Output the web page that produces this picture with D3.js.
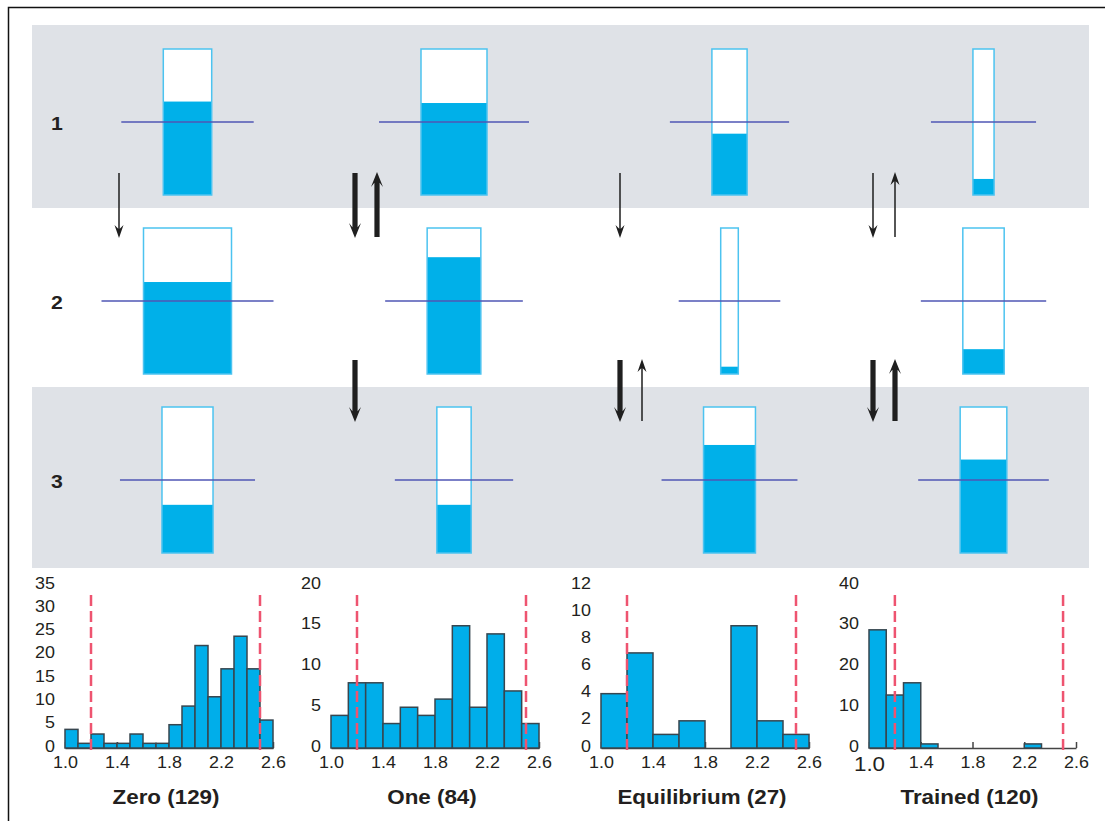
<!DOCTYPE html>
<html>
<head>
<meta charset="utf-8">
<script src="https://cdn.jsdelivr.net/npm/d3@7"></script>
<style>
  body { margin: 0; background: #fff; }
  svg { display: block; }
  text { font-family: "Liberation Sans", Arial, sans-serif; fill: #231f20; }
</style>
</head>
<body>
<div id="chart"></div>
<script>
// ---- schematic (top) ----
const rowLabels = ['1', '2', '3'];

// tank capacity relative to the largest tank, one array per row (columns left to right)
const capacityRow1 = [0.55, 0.75, 0.40, 0.24];
const capacityRow2 = [1.00, 0.61, 0.20, 0.47];
const capacityRow3 = [0.58, 0.39, 0.59, 0.53];

// fill level of each tank (0..1)
const levelRow1 = [0.64, 0.63, 0.42, 0.11];
const levelRow2 = [0.63, 0.80, 0.05, 0.17];
const levelRow3 = [0.33, 0.33, 0.74, 0.64];

const thresholdLevel = 0.5;

// transitions between rows (gap 0: row 1 -> 2, gap 1: row 2 -> 3)
const transitions = [
  { gap: 0, col: 0, dir: 'down', heavy: false },
  { gap: 0, col: 1, dir: 'down', heavy: true },
  { gap: 0, col: 1, dir: 'up', heavy: true },
  { gap: 0, col: 2, dir: 'down', heavy: false },
  { gap: 0, col: 3, dir: 'down', heavy: false },
  { gap: 0, col: 3, dir: 'up', heavy: false },
  { gap: 1, col: 1, dir: 'down', heavy: true },
  { gap: 1, col: 2, dir: 'down', heavy: true },
  { gap: 1, col: 2, dir: 'up', heavy: false },
  { gap: 1, col: 3, dir: 'down', heavy: true },
  { gap: 1, col: 3, dir: 'up', heavy: true },
];

// ---- histograms (bottom) ----
const panelNames = ['Zero', 'One', 'Equilibrium', 'Trained'];
const panelTotals = [129, 84, 27, 120];
const countsZero = [4, 1, 3, 1, 1, 3, 1, 1, 5, 9, 22, 11, 17, 24, 17, 6];
const countsOne = [4, 8, 8, 3, 5, 4, 6, 15, 5, 14, 7, 3];
const countsEquilibrium = [4, 7, 1, 2, 0, 9, 2, 1];
const countsTrained = [29, 13, 16, 1, 0, 0, 0, 0, 0, 1, 0, 0];
const yMaxes = [35, 20, 12, 40];
const yTickSteps = [5, 5, 2, 10];
const xDomain = [1.0, 2.6];
const xTickValues = [1.0, 1.4, 1.8, 2.2, 2.6];
const limitLines = [1.2, 2.5];

// ---- layout ----
const W = 1105, H = 821;
const colCenters = [187.5, 454, 729.5, 983.5];
const bandY = [25, 208, 387, 568];
const tankTop = [49, 228, 407];
const tankH = 146;
const lineOverhang = 42;
const arrowDownX = [119, 355, 620, 873];
const arrowPair = 22;
const arrowSpan = [[173, 237], [360, 421]];
const panelX = [[65, 273], [331, 539], [601, 809], [869, 1076]];
const plotTop = 585, plotBottom = 748;
const stretch = 'scale(1.12,1)';

const capacities = [capacityRow1, capacityRow2, capacityRow3];
const levels = [levelRow1, levelRow2, levelRow3];
const counts = [countsZero, countsOne, countsEquilibrium, countsTrained];

const svg = d3.select('#chart').append('svg')
  .attr('width', W)
  .attr('height', H);

// frame (top and left edges)
svg.append('path')
  .attr('d', `M8.5,${H} V7.5 H${W}`)
  .attr('fill', 'none')
  .attr('stroke', '#111')
  .attr('stroke-width', 1.5);

// gray bands for rows 1 and 3
svg.selectAll('rect.band')
  .data([0, 2])
  .enter().append('rect')
  .attr('class', 'band')
  .attr('x', 32)
  .attr('width', 1089 - 32)
  .attr('y', d => bandY[d])
  .attr('height', d => bandY[d + 1] - bandY[d])
  .attr('fill', '#dfe2e7');

const widthScale = d3.scaleLinear().domain([0, 1]).range([0, 88]);

rowLabels.forEach((label, r) => {
  const levelScale = d3.scaleLinear().domain([0, 1]).range([tankTop[r] + tankH, tankTop[r]]);
  const row = svg.append('g').attr('class', 'row-' + label);

  row.append('text')
    .attr('transform', `translate(57,${levelScale(thresholdLevel) + 1}) ${stretch}`)
    .attr('text-anchor', 'middle')
    .attr('dominant-baseline', 'central')
    .attr('font-size', 19)
    .attr('font-weight', 'bold')
    .text(label);

  const tanks = row.selectAll('g.tank')
    .data(capacities[r].map((c, i) => ({ c, level: levels[r][i], x: colCenters[i] })))
    .enter().append('g')
    .attr('class', 'tank');

  tanks.append('rect')
    .attr('x', d => d.x - widthScale(d.c) / 2)
    .attr('width', d => widthScale(d.c))
    .attr('y', levelScale(1))
    .attr('height', tankH)
    .attr('fill', '#fff');

  tanks.append('rect')
    .attr('x', d => d.x - widthScale(d.c) / 2)
    .attr('width', d => widthScale(d.c))
    .attr('y', d => levelScale(d.level))
    .attr('height', d => levelScale(0) - levelScale(d.level))
    .attr('fill', '#00b0e9');

  tanks.append('rect')
    .attr('x', d => d.x - widthScale(d.c) / 2)
    .attr('width', d => widthScale(d.c))
    .attr('y', levelScale(1))
    .attr('height', tankH)
    .attr('fill', 'none')
    .attr('stroke', '#4cc3f0')
    .attr('stroke-width', 1.5);

  tanks.append('line')
    .attr('x1', d => d.x - widthScale(d.c) / 2 - lineOverhang)
    .attr('x2', d => d.x + widthScale(d.c) / 2 + lineOverhang)
    .attr('y1', levelScale(thresholdLevel))
    .attr('y2', levelScale(thresholdLevel))
    .attr('stroke', '#4f56b4')
    .attr('stroke-opacity', 0.75)
    .attr('stroke-width', 2);
});

// arrows
function arrowPath(x, y0, y1, heavy) {
  const sign = y1 > y0 ? 1 : -1;
  const hw = heavy ? 6 : 4.5;
  const hl = heavy ? 15 : 13;
  const sw = heavy ? 2.6 : 0.75;
  const base = y1 - sign * hl;
  const notch = y1 - sign * hl * 0.72;
  return `M${x - sw},${y0} L${x + sw},${y0} L${x + sw},${notch} ` +
    `L${x + hw},${base} L${x},${y1} L${x - hw},${base} L${x - sw},${notch} Z`;
}

svg.selectAll('path.arrow')
  .data(transitions)
  .enter().append('path')
  .attr('class', 'arrow')
  .attr('d', d => {
    const x = arrowDownX[d.col] + (d.dir === 'up' ? arrowPair : 0);
    const [a, b] = arrowSpan[d.gap];
    return d.dir === 'down' ? arrowPath(x, a, b + 1, d.heavy) : arrowPath(x, b, a - 1, d.heavy);
  })
  .attr('fill', '#1f1f1f');

// histograms
counts.forEach((bins, p) => {
  const x = d3.scaleLinear().domain(xDomain).range(panelX[p]);
  const y = d3.scaleLinear().domain([0, yMaxes[p]]).range([plotBottom, plotTop]);
  const binW = (xDomain[1] - xDomain[0]) / bins.length;
  const g = svg.append('g').attr('class', 'hist-' + panelNames[p]);

  // x axis with inward ticks
  const xAxis = g.append('g')
    .attr('transform', `translate(0,${plotBottom})`)
    .call(d3.axisBottom(x)
      .tickValues(xTickValues)
      .tickSizeInner(-6)
      .tickSizeOuter(0)
      .tickPadding(9)
      .tickFormat(d3.format('.1f')));
  xAxis.selectAll('path, line').attr('stroke', '#444').attr('stroke-width', 1.5);
  xAxis.selectAll('text')
    .attr('font-size', (d, i) => (p === 3 && i === 0) ? 20 : 16)
    .attr('font-family', '"Liberation Sans", Arial, sans-serif')
    .attr('fill', '#231f20')
    .attr('transform', stretch);

  // y labels only
  const yTicks = d3.range(0, yMaxes[p] + 0.001, yTickSteps[p]);
  const yAxis = g.append('g')
    .attr('transform', `translate(${panelX[p][0]},-2)`)
    .call(d3.axisLeft(y).tickValues(yTicks).tickSize(0).tickPadding(9));
  yAxis.select('.domain').remove();
  yAxis.selectAll('text')
    .attr('font-size', 16)
    .attr('font-family', '"Liberation Sans", Arial, sans-serif')
    .attr('fill', '#231f20')
    .attr('transform', stretch);

  // bars
  g.selectAll('rect.bin')
    .data(bins.map((c, i) => ({ c, x0: xDomain[0] + i * binW, x1: xDomain[0] + (i + 1) * binW })).filter(d => d.c > 0))
    .enter().append('rect')
    .attr('class', 'bin')
    .attr('x', d => x(d.x0))
    .attr('width', d => x(d.x1) - x(d.x0))
    .attr('y', d => y(d.c))
    .attr('height', d => y(0) - y(d.c))
    .attr('fill', '#00aeea')
    .attr('stroke', '#37464f')
    .attr('stroke-width', 1.5);

  // limit lines
  g.selectAll('line.limit')
    .data(limitLines)
    .enter().append('line')
    .attr('class', 'limit')
    .attr('x1', d => x(d))
    .attr('x2', d => x(d))
    .attr('y1', plotTop + 10)
    .attr('y2', plotBottom + 2)
    .attr('stroke', '#ee5470')
    .attr('stroke-width', 2.5)
    .attr('stroke-dasharray', '11,5');

  // title
  g.append('text')
    .attr('transform', `translate(${(panelX[p][0] + panelX[p][1]) / 2 - 3},797) ${stretch}`)
    .attr('text-anchor', 'middle')
    .attr('dominant-baseline', 'central')
    .attr('font-size', 20)
    .attr('font-weight', 'bold')
    .text(`${panelNames[p]} (${panelTotals[p]})`);
});
</script>
</body>
</html>
